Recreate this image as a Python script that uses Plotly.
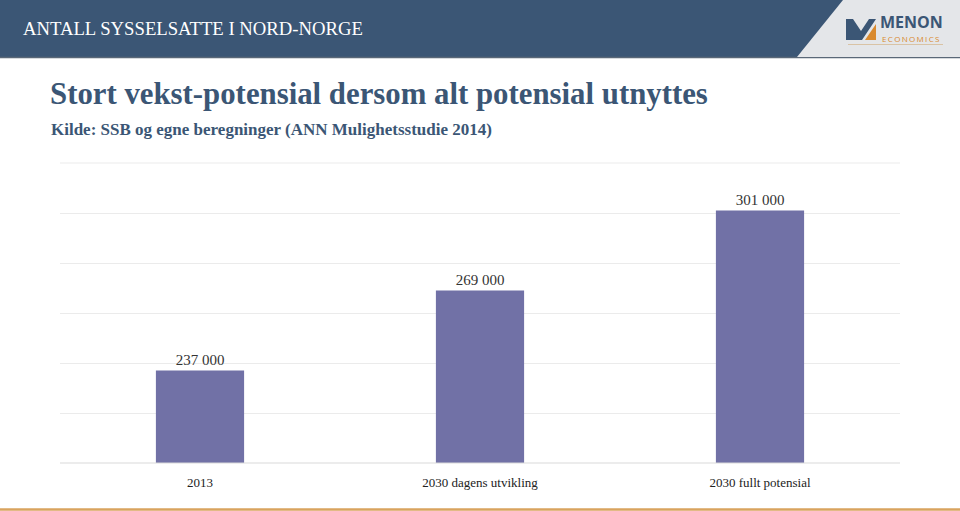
import plotly.graph_objects as go

categories = ["2013", "2030 dagens utvikling", "2030 fullt potensial"]
values = [237000, 269000, 301000]
value_labels = ["237 000", "269 000", "301 000"]

W, H = 960, 511
L, R, T, B = 60, 60, 163, 48
PW, PH = W - L - R, H - T - B

def px(x):
    return (x - L) / PW

def py(y):
    return (H - B - y) / PH

SERIF = "Georgia, 'Liberation Serif', 'DejaVu Serif', serif"
SANS = "'Open Sans', 'DejaVu Sans', sans-serif"
NAVY = "#3b5675"
ORANGE = "#d98a2f"

fig = go.Figure()
fig.add_trace(go.Bar(
    x=categories, y=values, text=value_labels, textposition="outside",
    textfont=dict(family=SERIF, size=15, color="#333333"),
    marker=dict(color="#7171a6", line=dict(width=0)),
    width=0.315, cliponaxis=False, hoverinfo="skip",
))

shapes = []
# header bar
shapes.append(dict(type="rect", xref="paper", yref="paper", x0=px(0), x1=px(960), y0=py(57), y1=py(0),
                   fillcolor=NAVY, line=dict(width=0), layer="above"))
shapes.append(dict(type="line", xref="paper", yref="paper", x0=px(0), x1=px(960), y0=py(57.5), y1=py(57.5),
                   line=dict(color="#5a6878", width=1.5), layer="above"))
# light logo area
shapes.append(dict(type="path", xref="paper", yref="paper",
                   path=f"M {px(843)} {py(0)} L {px(960)} {py(0)} L {px(960)} {py(57)} L {px(797)} {py(57)} Z",
                   fillcolor="#e4e6e9", line=dict(width=0), layer="above"))
# logo mark (blue)
blue_path = (f"M {px(846)} {py(19)} L {px(853)} {py(19)} L {px(861)} {py(31)} L {px(869)} {py(19)} "
             f"L {px(876)} {py(19)} L {px(862)} {py(40)} L {px(853)} {py(40)} L {px(853)} {py(29)} "
             f"L {px(853)} {py(40)} L {px(846)} {py(40)} Z")
shapes.append(dict(type="path", xref="paper", yref="paper", path=blue_path,
                   fillcolor=NAVY, line=dict(width=0), layer="above"))
shapes.append(dict(type="path", xref="paper", yref="paper",
                   path=f"M {px(865)} {py(40)} L {px(876)} {py(24)} L {px(876)} {py(40)} Z",
                   fillcolor=ORANGE, line=dict(width=0), layer="above"))
shapes.append(dict(type="line", xref="paper", yref="paper", x0=px(848), x1=px(943), y0=py(44.5), y1=py(44.5),
                   line=dict(color="#d9c3a5", width=1), layer="above"))
# bottom orange line
shapes.append(dict(type="line", xref="paper", yref="paper", x0=px(0), x1=px(960), y0=py(509.5), y1=py(509.5),
                   line=dict(color="#d9a35e", width=2.5), layer="above"))
# baseline and top gridline
shapes.append(dict(type="line", xref="paper", yref="paper", x0=0, x1=1, y0=0, y1=0,
                   line=dict(color="#d9d9d9", width=1), layer="above"))
shapes.append(dict(type="line", xref="paper", yref="paper", x0=0, x1=1, y0=1, y1=1,
                   line=dict(color="#ebebeb", width=1), layer="below"))

annotations = [
    dict(text="ANTALL SYSSELSATTE I NORD-NORGE", x=px(21), y=py(29), xanchor="left", yanchor="middle",
         font=dict(family=SERIF, size=18.7, color="#ffffff")),
    dict(text="<b>Stort vekst-potensial dersom alt potensial utnyttes</b>", x=px(48), y=py(94),
         xanchor="left", yanchor="middle", font=dict(family=SERIF, size=30.8, color=NAVY)),
    dict(text="<b>Kilde: SSB og egne beregninger (ANN Mulighetsstudie 2014)</b>", x=px(49), y=py(130),
         xanchor="left", yanchor="middle", font=dict(family=SERIF, size=17, color=NAVY)),
    dict(text="<b>MENON</b>", x=px(878), y=py(22), xanchor="left", yanchor="middle",
         font=dict(family=SANS, size=16, color=NAVY)),
    dict(text="\u2009".join("ECONOMICS"), x=px(880), y=py(38.5), xanchor="left", yanchor="middle",
         font=dict(family=SANS, size=8, color=ORANGE)),
]
for a in annotations:
    a.update(xref="paper", yref="paper", showarrow=False)

fig.update_layout(
    width=W, height=H, margin=dict(l=L, r=R, t=T, b=B, pad=0),
    paper_bgcolor="#ffffff", plot_bgcolor="#ffffff",
    showlegend=False, shapes=shapes, annotations=annotations,
    xaxis=dict(showgrid=False, showline=False, ticks="", tickfont=dict(family=SERIF, size=13, color="#222222"),
               ticklabelstandoff=10),
    yaxis=dict(range=[200000, 320000], dtick=20000, showticklabels=False, gridcolor="#ebebeb", gridwidth=1,
               zeroline=False, showline=False, ticks=""),
    bargap=0.685,
)

fig.write_html("out.html", config={"displayModeBar": False},
               post_script="document.body.style.margin='0px';document.body.style.overflow='hidden';")
